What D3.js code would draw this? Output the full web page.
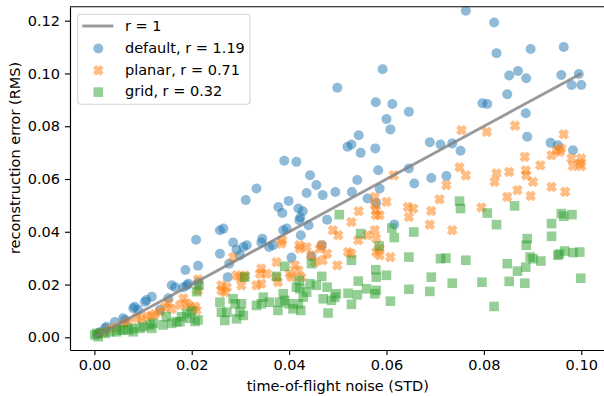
<!DOCTYPE html>
<html>
<head>
<meta charset="utf-8">
<script src="https://cdn.jsdelivr.net/npm/d3@7"></script>
<style>
  html, body { margin: 0; padding: 0; background: #fff; }
  svg { display: block; }
  text { font-family: "DejaVu Sans", sans-serif; }
</style>
</head>
<body>
<svg id="chart" width="604" height="396"></svg>
<script>
// ---- data ----
const xTicks = [0, 0.02, 0.04, 0.06, 0.08, 0.10];
const yTicks = [0, 0.02, 0.04, 0.06, 0.08, 0.10, 0.12];
const seriesLabels = ['default, r = 1.19', 'planar, r = 0.71', 'grid, r = 0.32'];
const refLine = [[0, 0], [0.1, 0.1]];   // r = 1

const defaultPts = [
  [0.0763,0.1238],[0.0821,0.1193],[0.0826,0.1077],[0.0896,0.1093],[0.0964,0.1100],[0.0592,0.1016],
  [0.0499,0.0946],[0.0852,0.0992],[0.0870,0.1009],[0.0887,0.0982],[0.0959,0.0994],[0.0995,0.0998],
  [0.0980,0.0956],[0.1000,0.0956],[0.0848,0.0921],[0.0797,0.0887],[0.0807,0.0884],[0.0886,0.0849],
  [0.0578,0.0891],[0.0612,0.0884],[0.0646,0.0855],[0.0600,0.0827],[0.0608,0.0788],
  [0.0543,0.0766],[0.0528,0.0731],[0.0520,0.0722],[0.0547,0.0699],[0.0577,0.0716],[0.0390,0.0669],
  [0.0415,0.0665],[0.0583,0.0633],[0.0646,0.0640],[0.0657,0.0583],[0.0443,0.0614],[0.0456,0.0577],
  [0.0540,0.0596],[0.0333,0.0564],[0.0311,0.0520],[0.0436,0.0547],[0.0469,0.0539],[0.0495,0.0551],
  [0.0529,0.0551],[0.0561,0.0526],[0.0586,0.0564],[0.0579,0.0509],[0.0399,0.0517],[0.0378,0.0494],
  [0.0386,0.0471],[0.0419,0.0488],[0.0428,0.0478],[0.0423,0.0454],[0.0421,0.0444],[0.0440,0.0425],
  [0.0478,0.0446],[0.0395,0.0412],[0.0388,0.0406],[0.0424,0.0387],[0.0345,0.0374],[0.0343,0.0359],
  [0.0367,0.0349],[0.0359,0.0342],[0.0467,0.0349],[0.0405,0.0302],[0.0446,0.0307],[0.0616,0.0428],
  [0.0299,0.0311],
  [0.0689,0.0739],[0.0711,0.0731],[0.0735,0.0735],[0.0752,0.0707],[0.0889,0.0760],[0.0937,0.0737],
  [0.0952,0.0728],[0.0983,0.0709],[0.0692,0.0604],[0.0723,0.0611],
  [0.0008,0.0015],[0.0011,0.0019],[0.0022,0.0034],[0.0025,0.0040],[0.0042,0.0058],[0.0059,0.0072],
  [0.0063,0.0066],[0.0080,0.0110],[0.0083,0.0116],[0.0090,0.0104],[0.0104,0.0135],[0.0107,0.0141],
  [0.0118,0.0154],[0.0135,0.0104],[0.0152,0.0148],[0.0159,0.0197],[0.0166,0.0190],[0.0183,0.0190],
  [0.0190,0.0197],[0.0193,0.0203],[0.0187,0.0255],[0.0213,0.0271],[0.0213,0.0209],[0.0209,0.0370],
  [0.0258,0.0406],[0.0265,0.0412],[0.0258,0.0317],[0.0285,0.0359],[0.0277,0.0279],[0.0274,0.0228],
  [0.0292,0.0332],[0.0306,0.0342],[0.0313,0.0349]
];

const planarPts = [
  [0.0008,0.0013],[0.0018,0.0019],[0.0032,0.0032],[0.0046,0.0038],[0.0059,0.0051],[0.0070,0.0058],
  [0.0087,0.0074],[0.0097,0.0068],[0.0107,0.0080],[0.0118,0.0080],[0.0124,0.0088],[0.0135,0.0097],
  [0.0145,0.0114],[0.0152,0.0130],[0.0159,0.0108],[0.0176,0.0122],[0.0183,0.0148],[0.0190,0.0129],
  [0.0196,0.0116],[0.0207,0.0116],[0.0210,0.0103],[0.0213,0.0220],[0.0213,0.0178],[0.0261,0.0197],
  [0.0272,0.0190],[0.0268,0.0171],[0.0261,0.0178],[0.0302,0.0197],[0.0292,0.0235],[0.0299,0.0228],
  [0.0309,0.0235],[0.0285,0.0304],[0.0306,0.0228],
  [0.0615,0.0614],[0.0576,0.0532],[0.0600,0.0513],[0.0576,0.0501],[0.0579,0.0482],[0.0578,0.0463],
  [0.0586,0.0463],[0.0644,0.0494],[0.0655,0.0488],[0.0646,0.0456],[0.0543,0.0478],[0.0528,0.0437],
  [0.0490,0.0406],[0.0501,0.0387],[0.0561,0.0387],[0.0576,0.0406],[0.0579,0.0374],[0.0586,0.0336],
  [0.0542,0.0368],[0.0521,0.0323],[0.0528,0.0317],[0.0579,0.0323],[0.0586,0.0311],[0.0608,0.0304],
  [0.0463,0.0336],[0.0467,0.0349],[0.0478,0.0317],[0.0469,0.0292],[0.0499,0.0273],[0.0445,0.0311],
  [0.0453,0.0285],[0.0422,0.0336],[0.0436,0.0342],[0.0421,0.0349],[0.0384,0.0355],[0.0386,0.0368],
  [0.0374,0.0285],[0.0412,0.0273],[0.0419,0.0254],[0.0401,0.0241],[0.0405,0.0228],[0.0425,0.0228],
  [0.0343,0.0260],[0.0340,0.0241],[0.0354,0.0241],[0.0343,0.0203],[0.0333,0.0197],[0.0374,0.0228],
  [0.0377,0.0209],
  [0.0754,0.0785],[0.0806,0.0779],[0.0864,0.0802],[0.0964,0.0769],[0.0884,0.0684],[0.0916,0.0652],
  [0.0939,0.0690],[0.0949,0.0709],[0.0959,0.0716],[0.0956,0.0703],[0.0980,0.0678],[0.1000,0.0678],
  [0.0997,0.0659],[0.0983,0.0649],[0.1000,0.0649],[0.0750,0.0644],[0.0763,0.0614],[0.0723,0.0577],
  [0.0826,0.0621],[0.0822,0.0589],[0.0852,0.0627],[0.0886,0.0633],[0.0887,0.0614],[0.0901,0.0589],
  [0.0869,0.0558],[0.0848,0.0532],[0.0896,0.0536],[0.0939,0.0570],[0.0967,0.0551],[0.0709,0.0523],
  [0.0795,0.0492],[0.0692,0.0479],[0.0689,0.0427],[0.0735,0.0406]
];

const gridPts = [
  [0.0001,0.0009],[0.0005,0.0015],[0.0008,0.0002],[0.0022,0.0015],[0.0032,0.0021],[0.0046,0.0021],
  [0.0053,0.0028],[0.0059,0.0028],[0.0070,0.0028],[0.0077,0.0034],[0.0080,0.0021],[0.0094,0.0034],
  [0.0100,0.0040],[0.0114,0.0047],[0.0121,0.0053],[0.0118,0.0034],[0.0141,0.0047],[0.0148,0.0078],
  [0.0159,0.0053],[0.0169,0.0059],[0.0176,0.0059],[0.0179,0.0078],[0.0190,0.0090],[0.0200,0.0100],
  [0.0196,0.0072],[0.0207,0.0060],[0.0213,0.0066],[0.0210,0.0173],[0.0215,0.0197],[0.0258,0.0133],
  [0.0261,0.0095],[0.0272,0.0095],[0.0268,0.0064],[0.0285,0.0146],[0.0289,0.0127],[0.0302,0.0127],
  [0.0299,0.0095],[0.0292,0.0070],[0.0306,0.0083],[0.0309,0.0228],
  [0.0503,0.0465],[0.0547,0.0393],[0.0585,0.0346],[0.0611,0.0414],[0.0616,0.0378],[0.0656,0.0399],
  [0.0646,0.0304],[0.0528,0.0292],[0.0446,0.0279],[0.0391,0.0269],[0.0374,0.0231],[0.0467,0.0231],
  [0.0421,0.0216],[0.0422,0.0184],[0.0415,0.0190],[0.0443,0.0203],[0.0456,0.0197],[0.0478,0.0190],
  [0.0542,0.0213],[0.0578,0.0256],[0.0579,0.0228],[0.0600,0.0235],[0.0559,0.0184],[0.0579,0.0178],
  [0.0576,0.0165],[0.0646,0.0182],[0.0608,0.0137],[0.0497,0.0165],[0.0494,0.0152],[0.0470,0.0146],
  [0.0487,0.0140],[0.0521,0.0167],[0.0540,0.0161],[0.0528,0.0125],[0.0480,0.0092],[0.0436,0.0171],
  [0.0429,0.0152],[0.0419,0.0127],[0.0424,0.0102],[0.0408,0.0108],[0.0400,0.0127],[0.0391,0.0140],
  [0.0388,0.0165],[0.0381,0.0133],[0.0377,0.0102],[0.0360,0.0133],[0.0347,0.0152],[0.0343,0.0127],
  [0.0333,0.0121],
  [0.0750,0.0516],[0.0752,0.0488],[0.0863,0.0498],[0.0807,0.0471],[0.0826,0.0427],[0.0959,0.0469],
  [0.0964,0.0459],[0.0981,0.0465],[0.0939,0.0431],[0.0939,0.0383],[0.0889,0.0374],[0.0887,0.0349],
  [0.0895,0.0304],[0.0901,0.0298],[0.0917,0.0289],[0.0952,0.0311],[0.0955,0.0316],[0.0966,0.0327],
  [0.0983,0.0321],[0.0997,0.0323],[0.0848,0.0279],[0.0869,0.0251],[0.0886,0.0266],[0.0852,0.0212],
  [0.0884,0.0205],[0.0999,0.0224],[0.0821,0.0117],[0.0796,0.0209],[0.0763,0.0292],[0.0711,0.0298],
  [0.0722,0.0300],[0.0692,0.0228],[0.0735,0.0205],[0.0689,0.0174]
];

const COLORS = { line: '#808080', default: '#1f77b4', planar: '#ff7f0e', grid: '#2ca02c' };

// ---- layout ----
const margin = { top: 6.7, left: 70 };
const W = 535.6, H = 343.3;

const svg = d3.select('#chart');
const g = svg.append('g').attr('transform', `translate(${margin.left},${margin.top})`);

const x = d3.scaleLinear().domain([-0.005, 0.105]).range([0, W]);
const y = d3.scaleLinear().domain([-0.00481, 0.1253]).range([H, 0]);

g.append('clipPath').attr('id', 'plot-clip')
  .append('rect').attr('width', W).attr('height', H);

const plot = g.append('g').attr('clip-path', 'url(#plot-clip)');

// filled "X" marker, puffed up a bit with a same-colour stroke
const xMarker = s => {
  const v = [[-1,-2],[0,-1],[1,-2],[2,-1],[1,0],[2,1],[1,2],[0,1],[-1,2],[-2,1],[-1,0],[-2,-1]];
  return 'M' + v.map(p => [p[0] * s / 4, p[1] * s / 4].join(',')).join('L') + 'Z';
};

function drawCircles(sel, pts, color) {
  sel.selectAll(null).data(pts).enter().append('circle')
    .attr('cx', d => x(d[0])).attr('cy', d => y(d[1]))
    .attr('r', 5)
    .attr('fill', color).attr('fill-opacity', 0.5);
}
function drawCrosses(sel, pts, color) {
  sel.selectAll(null).data(pts).enter().append('path')
    .attr('transform', d => `translate(${x(d[0])},${y(d[1])})`)
    .attr('d', xMarker(8.6))
    .attr('fill', color).attr('stroke', color)
    .attr('stroke-width', 1.6).attr('stroke-linejoin', 'round')
    .attr('opacity', 0.5);
}
function drawSquares(sel, pts, color) {
  const s = 9.6;
  sel.selectAll(null).data(pts).enter().append('rect')
    .attr('x', d => x(d[0]) - s / 2).attr('y', d => y(d[1]) - s / 2)
    .attr('width', s).attr('height', s)
    .attr('fill', color).attr('fill-opacity', 0.5);
}

drawCircles(plot.append('g'), defaultPts, COLORS.default);
drawCrosses(plot.append('g'), planarPts, COLORS.planar);
drawSquares(plot.append('g'), gridPts, COLORS.grid);

// r = 1 reference line (on top of the markers, like matplotlib)
plot.append('path')
  .datum(refLine)
  .attr('d', d3.line().x(d => x(d[0])).y(d => y(d[1])))
  .attr('fill', 'none')
  .attr('stroke', COLORS.line).attr('stroke-opacity', 0.8)
  .attr('stroke-width', 2.9);

// ---- axes ----
const fmt = d3.format('.2f');
const xAxis = g.append('g').attr('transform', `translate(0,${H})`)
  .call(d3.axisBottom(x).tickValues(xTicks).tickFormat(fmt).tickSize(5).tickPadding(5).tickSizeOuter(0));
const yAxis = g.append('g')
  .call(d3.axisLeft(y).tickValues(yTicks).tickFormat(fmt).tickSize(5).tickPadding(5).tickSizeOuter(0));

[xAxis, yAxis].forEach(a => {
  a.selectAll('path, line').attr('stroke', '#000').attr('stroke-width', 1.15);
  a.selectAll('text').attr('fill', '#000').attr('font-size', 14.5)
    .attr('font-family', '"DejaVu Sans", sans-serif');
});

// top / right spines
g.append('line').attr('x1', 0).attr('x2', W).attr('y1', 0).attr('y2', 0)
  .attr('stroke', '#000').attr('stroke-width', 1.15);
g.append('line').attr('x1', W).attr('x2', W).attr('y1', 0).attr('y2', H)
  .attr('stroke', '#000').attr('stroke-width', 1.15);

// axis labels
svg.append('text')
  .attr('x', margin.left + W / 2).attr('y', 391)
  .attr('text-anchor', 'middle').attr('font-size', 14.5)
  .text('time-of-flight noise (STD)');

svg.append('text')
  .attr('transform', 'translate(19.5,158) rotate(-90)')
  .attr('text-anchor', 'middle').attr('font-size', 14.5)
  .text('reconstruction error (RMS)');

// ---- legend ----
const legend = svg.append('g').attr('transform', 'translate(77.7,14.3)');
legend.append('rect')
  .attr('width', 172.3).attr('height', 90)
  .attr('rx', 3).attr('ry', 3)
  .attr('fill', '#fff').attr('fill-opacity', 0.8)
  .attr('stroke', '#d6d6d6').attr('stroke-width', 1.1);

const rowY = [11.7, 34.2, 56, 77.8];
const textBase = [17.1, 38.9, 60.5, 82.1];

legend.append('line')
  .attr('x1', 4.6).attr('x2', 35.6).attr('y1', rowY[0]).attr('y2', rowY[0])
  .attr('stroke', COLORS.line).attr('stroke-opacity', 0.8).attr('stroke-width', 2.9);

drawLegendMarker('circle', rowY[1], COLORS.default);
drawLegendMarker('cross', rowY[2], COLORS.planar);
drawLegendMarker('square', rowY[3], COLORS.grid);

function drawLegendMarker(kind, cy, color) {
  const cx = 20.6;
  if (kind === 'circle') {
    legend.append('circle').attr('cx', cx).attr('cy', cy).attr('r', 5)
      .attr('fill', color).attr('fill-opacity', 0.5);
  } else if (kind === 'cross') {
    legend.append('path').attr('transform', `translate(${cx},${cy})`).attr('d', xMarker(8.6))
      .attr('fill', color).attr('stroke', color)
      .attr('stroke-width', 1.6).attr('stroke-linejoin', 'round')
      .attr('opacity', 0.5);
  } else {
    legend.append('rect').attr('x', cx - 4.8).attr('y', cy - 4.8).attr('width', 9.6).attr('height', 9.6)
      .attr('fill', color).attr('fill-opacity', 0.5);
  }
}

legend.selectAll('.leg-text')
  .data(['r = 1'].concat(seriesLabels))
  .enter().append('text')
    .attr('class', 'leg-text')
    .attr('x', 47.3)
    .attr('y', (d, i) => textBase[i])
    .attr('font-size', 14.5)
    .attr('fill', '#000')
    .text(d => d);
</script>
</body>
</html>
